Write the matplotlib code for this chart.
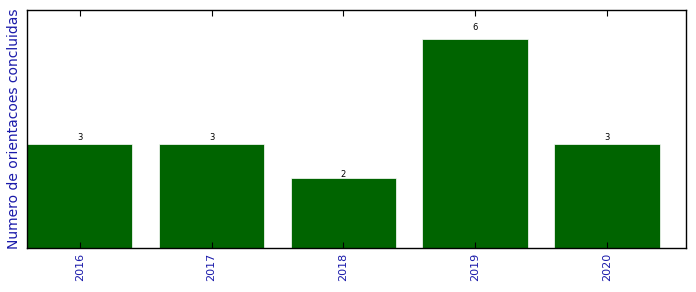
import matplotlib
matplotlib.use('Agg')
import matplotlib.pyplot as plt
import numpy as np

anos = ['2016', '2017', '2018', '2019', '2020']
orientacoes = [3, 3, 2, 6, 3]

fig = plt.figure(figsize=(6.96, 2.92), dpi=100)
ax = fig.add_axes([27/696, 1-248/292, 659/696, 238/292])
x = np.arange(len(anos))
bars = ax.bar(x, orientacoes, width=0.8, align='edge', color='#006400', edgecolor='white', linewidth=0.5)
for b, v in zip(bars, orientacoes):
	ax.text(b.get_x()+b.get_width()/2, 1.058*v - 0.13, str(v), ha='center', va='bottom', fontsize=6)
ax.set_xlim(0, 5)
ax.set_ylim(0, max(orientacoes)*1.14)
ax.set_xticks(x+0.4)
ax.set_xticklabels(anos, rotation=90, color='#1a1aaa', fontsize=8)
ax.set_yticks([])
ax.tick_params(axis='x', direction='in', top=True, length=4)
ax.set_ylabel('Numero de orientacoes concluidas', color='#1a1aaa', fontsize=10, labelpad=4)
for s in ax.spines.values():
	s.set_linewidth(1.0)
fig.savefig('out.png', dpi=100)
